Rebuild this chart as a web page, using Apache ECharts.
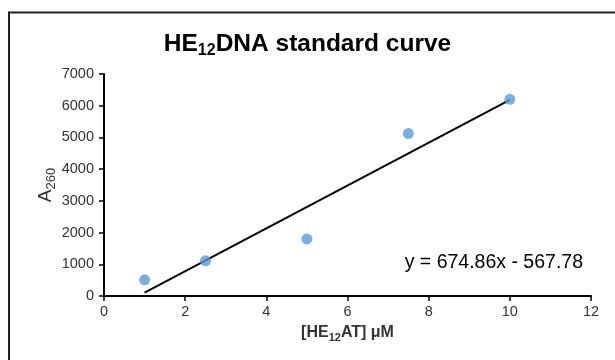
<!DOCTYPE html>
<html>
<head>
<meta charset="utf-8">
<script src="https://cdn.jsdelivr.net/npm/echarts@6/dist/echarts.min.js"></script>
<style>
html,body{margin:0;padding:0;background:#fff;}
#chart{width:615px;height:360px;}
</style>
</head>
<body>
<div id="chart"></div>
<script>
// Data
const concentrations = [1, 2.5, 5, 7.5, 10];          // [HE12AT] µM
const absorbances = [510, 1110, 1800, 5120, 6200];   // A260
const trendSlope = 674.86;
const trendIntercept = -567.78;
const trendRange = [1, 10];
const xTicks = [0, 2, 4, 6, 8, 10, 12];
const yTicks = [0, 1000, 2000, 3000, 4000, 5000, 6000, 7000];
const equationText = 'y = 674.86x - 567.78';

const scatterData = concentrations.map((x, i) => [x, absorbances[i]]);
const trendData = trendRange.map(x => [x, trendSlope * x + trendIntercept]);

const font = '"Liberation Sans", Arial, sans-serif';
const labelColor = '#333';
const chart = echarts.init(document.getElementById('chart'), null, {renderer: 'canvas'});

chart.setOption({
  animation: false,
  backgroundColor: '#fff',
  title: {
    text: '{a|HE}{s|12}{a|DNA standard curve}',
    left: 'center',
    top: 24,
    textStyle: {
      rich: {
        a: {fontFamily: font, fontSize: 24.5, fontWeight: 'bold', color: '#000', lineHeight: 30},
        s: {fontFamily: font, fontSize: 16, fontWeight: 'bold', color: '#000', verticalAlign: 'bottom', lineHeight: 30}
      }
    }
  },
  grid: {left: 104, right: 24, top: 74, bottom: 64, containLabel: false},
  xAxis: {
    type: 'value',
    min: xTicks[0], max: xTicks[xTicks.length - 1], interval: 2,
    name: '{a|[HE}{s|12}{a|AT] μM}',
    nameLocation: 'middle',
    nameGap: 27,
    nameMoveOverlap: false,
    nameTextStyle: {
      rich: {
        a: {fontFamily: font, fontSize: 16, fontWeight: 'bold', color: labelColor, lineHeight: 20},
        s: {fontFamily: font, fontSize: 11, fontWeight: 'bold', color: labelColor, verticalAlign: 'bottom', lineHeight: 20}
      }
    },
    axisLine: {show: true, onZero: false, lineStyle: {color: '#000', width: 2}},
    axisTick: {show: true, inside: false, length: 5, lineStyle: {color: '#000', width: 1.5}},
    axisLabel: {fontFamily: font, fontSize: 14.5, color: labelColor, margin: 8},
    splitLine: {show: false}
  },
  yAxis: {
    type: 'value',
    min: yTicks[0], max: yTicks[yTicks.length - 1], interval: 1000,
    name: '{a|A}{s|260}',
    nameLocation: 'middle',
    nameGap: 46,
    nameRotate: 90,
    nameMoveOverlap: false,
    nameTextStyle: {
      rich: {
        a: {fontFamily: font, fontSize: 19, color: labelColor, lineHeight: 24},
        s: {fontFamily: font, fontSize: 13, color: labelColor, verticalAlign: 'bottom', lineHeight: 24}
      }
    },
    axisLine: {show: true, lineStyle: {color: '#000', width: 2}},
    axisTick: {show: true, inside: false, length: 5, lineStyle: {color: '#000', width: 1.5}},
    axisLabel: {fontFamily: font, fontSize: 14.5, color: labelColor, margin: 10, formatter: v => String(v)},
    splitLine: {show: false}
  },
  series: [
    {
      type: 'line',
      data: trendData,
      symbol: 'none',
      lineStyle: {color: '#000', width: 2},
      z: 2
    },
    {
      type: 'scatter',
      data: scatterData,
      symbol: 'circle',
      symbolSize: 11,
      itemStyle: {color: '#5b9bd5'},
      z: 3
    }
  ],
  graphic: [
    {
      type: 'rect',
      shape: {x: 9, y: 12.5, width: 640, height: 400},
      style: {fill: 'none', stroke: '#222', lineWidth: 2},
      silent: true
    },
    {
      type: 'text',
      right: 32,
      top: 253,
      style: {text: equationText, font: '19.5px ' + font, fill: '#000'}
    }
  ]
});
</script>
</body>
</html>
